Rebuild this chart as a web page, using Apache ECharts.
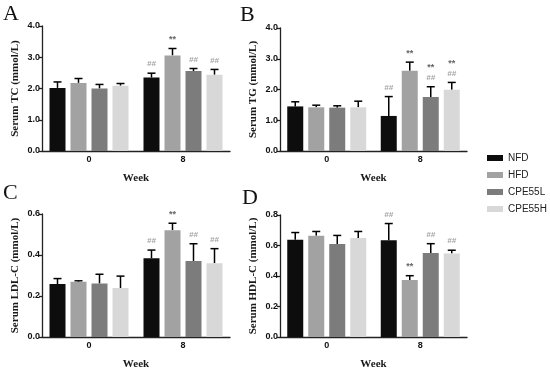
<!DOCTYPE html>
<html><head><meta charset="utf-8">
<script src="https://cdn.jsdelivr.net/npm/echarts@6/dist/echarts.min.js"></script>
<style>html,body{margin:0;padding:0;background:#fff}#c{width:550px;height:371px}</style>
</head><body><div id="c"></div>
<script>
// ---- data ----
const groups = ['NFD', 'HFD', 'CPE55L', 'CPE55H'];
const weeks = ['0', '8'];

// per group: [week 0, week 8]
const tcMean = [[2.02, 2.35], [2.18, 3.06], [2.00, 2.56], [2.09, 2.44]];
const tcSd   = [[0.19, 0.14], [0.14, 0.22], [0.13, 0.08], [0.07, 0.17]];
const tcMarks = [[[], ['##']], [[], ['**']], [[], ['##']], [[], ['##']]];

const tgMean = [[1.45, 1.14], [1.42, 2.61], [1.41, 1.76], [1.42, 1.99]];
const tgSd   = [[0.15, 0.63], [0.07, 0.28], [0.06, 0.33], [0.20, 0.24]];
const tgMarks = [[[], ['##']], [[], ['**']], [[], ['##', '**']], [[], ['##', '**']]];

const ldlMean = [[0.258, 0.384], [0.269, 0.521], [0.261, 0.371], [0.239, 0.360]];
const ldlSd   = [[0.027, 0.040], [0.005, 0.034], [0.045, 0.084], [0.058, 0.071]];
const ldlMarks = [[[], ['##']], [[], ['**']], [[], ['##']], [[], ['##']]];

const hdlMean = [[0.638, 0.634], [0.664, 0.374], [0.610, 0.551], [0.649, 0.547]];
const hdlSd   = [[0.047, 0.110], [0.028, 0.028], [0.056, 0.061], [0.043, 0.022]];
const hdlMarks = [[[], ['##']], [[], ['**']], [[], ['##']], [[], ['##']]];

// ---- styling / layout ----
const colors = ['#0d0d0d', '#a2a2a2', '#7c7c7c', '#d8d8d8'];
const BAR_W = 16, BAR_GAP = 5;
const serif = 'Liberation Serif';
const sans = 'Liberation Sans';
const axisColor = '#222';

const panels = [
  {letter: 'A', title: 'Serum TC (mmol/L)', mean: tcMean, sd: tcSd, marks: tcMarks, max: 4, interval: 1,
   grid: {left: 42, top: 26, width: 188, height: 125}, lpos: {left: 3, top: 3}},
  {letter: 'B', title: 'Serum TG (mmol/L)', mean: tgMean, sd: tgSd, marks: tgMarks, max: 4, interval: 1,
   grid: {left: 280, top: 28, width: 187, height: 123}, lpos: {left: 240, top: 4}},
  {letter: 'C', title: 'Serum LDL-C (mmol/L)', mean: ldlMean, sd: ldlSd, marks: ldlMarks, max: 0.6, interval: 0.2,
   grid: {left: 42, top: 214, width: 188, height: 124}, lpos: {left: 3, top: 182}},
  {letter: 'D', title: 'Serum HDL-C (mmol/L)', mean: hdlMean, sd: hdlSd, marks: hdlMarks, max: 0.8, interval: 0.2,
   grid: {left: 280, top: 215, width: 187, height: 123}, lpos: {left: 242, top: 187}}
];

const grids = [], xAxes = [], yAxes = [], series = [], graphics = [];
panels.forEach((p, pi) => {
  grids.push(Object.assign({containLabel: false}, p.grid));
  xAxes.push({
    type: 'category', gridIndex: pi, data: weeks,
    name: 'Week', nameLocation: 'middle', nameGap: 22,
    nameTextStyle: {fontFamily: serif, fontWeight: 'bold', fontSize: 11, color: '#1a1a1a'},
    axisLine: {lineStyle: {color: axisColor, width: 1.3}},
    axisTick: {alignWithLabel: true, length: 3, lineStyle: {color: axisColor, width: 1.3}},
    axisLabel: {fontFamily: sans, fontWeight: 'bold', fontSize: 9, color: '#111', margin: 4}
  });
  yAxes.push({
    type: 'value', gridIndex: pi, min: 0, max: p.max, interval: p.interval,
    name: p.title, nameLocation: 'middle', nameGap: 21, nameRotate: 90,
    nameTextStyle: {fontFamily: serif, fontWeight: 'bold', fontSize: 11, color: '#1a1a1a'},
    axisLine: {show: true, lineStyle: {color: axisColor, width: 1.3}},
    axisTick: {show: true, length: 3, lineStyle: {color: axisColor, width: 1.3}},
    splitLine: {show: false},
    axisLabel: {fontFamily: sans, fontWeight: 'bold', fontSize: 9, color: '#111', margin: 2,
      formatter: v => v.toFixed(1)}
  });
  groups.forEach((g, gi) => {
    series.push({
      type: 'bar', name: g, xAxisIndex: pi, yAxisIndex: pi,
      data: p.mean[gi], barWidth: BAR_W, barGap: (BAR_GAP / BAR_W * 100) + '%',
      itemStyle: {color: colors[gi]}, silent: true, animation: false
    });
  });
  // error bars + significance marks
  const eData = [];
  groups.forEach((g, gi) => weeks.forEach((w, wi) => {
    eData.push([wi, gi, p.mean[gi][wi], p.mean[gi][wi] + p.sd[gi][wi], p.marks[gi][wi].join('|')]);
  }));
  series.push({
    type: 'custom', xAxisIndex: pi, yAxisIndex: pi, data: eData, silent: true, animation: false,
    encode: {x: 0, y: 3},
    renderItem: (params, api) => {
      const gi = api.value(1);
      const off = (gi - 1.5) * (BAR_W + BAR_GAP);
      const base = api.coord([api.value(0), api.value(2)]);
      const top = api.coord([api.value(0), api.value(3)]);
      const x = base[0] + off;
      const children = [
        {type: 'line', shape: {x1: x, y1: base[1], x2: x, y2: top[1]}, style: {stroke: '#000', lineWidth: 1.5}},
        {type: 'line', shape: {x1: x - 4, y1: top[1], x2: x + 4, y2: top[1]}, style: {stroke: '#000', lineWidth: 1.5}}
      ];
      const raw = eData[params.dataIndex][4];
      const marks = raw ? raw.split('|') : [];
      marks.forEach((m, k) => {
        const star = m === '**';
        children.push({type: 'text', style: {
          text: m, x: x, y: top[1] - 9 - k * 10, align: 'center', verticalAlign: 'middle',
          fill: star ? '#666' : '#a5a5a5', fontSize: star ? 9 : 8,
          fontWeight: 'bold', fontStyle: star ? 'normal' : 'italic', fontFamily: sans
        }});
      });
      return {type: 'group', children: children};
    }
  });
  graphics.push({type: 'text', left: p.lpos.left, top: p.lpos.top,
    style: {text: p.letter, fontFamily: serif, fontSize: 22, fill: '#111'}});
});

const chart = echarts.init(document.getElementById('c'), null, {renderer: 'canvas'});
chart.setOption({
  backgroundColor: '#fff',
  animation: false,
  grid: grids, xAxis: xAxes, yAxis: yAxes, series: series, graphic: graphics,
  legend: {
    data: groups, orient: 'vertical', left: 487, top: 153, padding: 0,
    itemWidth: 16, itemHeight: 6, itemGap: 7, icon: 'rect',
    textStyle: {fontFamily: sans, fontSize: 10, color: '#222', lineHeight: 10},
    selectedMode: false
  }
});
</script></body></html>
